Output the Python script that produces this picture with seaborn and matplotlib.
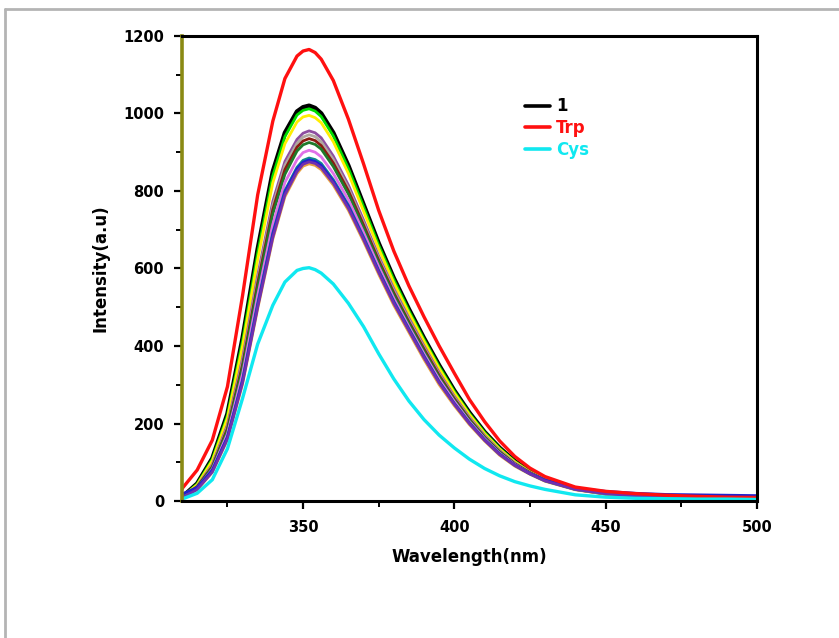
import matplotlib
matplotlib.use("Agg")
import matplotlib.pyplot as plt
import seaborn as sns
from matplotlib.lines import Line2D
from matplotlib.ticker import MultipleLocator

wavelength = [310, 315, 320, 325, 330, 335, 340, 344, 348, 350, 352, 354, 356, 360, 365,
              370, 375, 380, 385, 390, 395, 400, 405, 410, 415, 420, 425, 430, 440, 450,
              460, 470, 480, 490, 500]

trp = [32, 80, 157, 295, 530, 790, 980, 1090, 1148, 1161, 1165, 1157, 1140, 1085, 985,
       870, 750, 645, 555, 475, 400, 330, 262, 205, 155, 115, 85, 63, 36, 25,
       19, 15, 12, 10, 9]
cys = [5, 20, 55, 135, 265, 405, 505, 565, 595, 600, 602, 597, 588, 560, 510,
       450, 380, 315, 258, 210, 170, 137, 108, 84, 65, 50, 39, 30, 16, 10,
       7, 6, 5, 5, 4]
sample1 = [10, 45, 110, 225, 420, 650, 850, 950, 1005, 1016, 1020, 1014, 1000, 950, 865,
           765, 665, 575, 495, 420, 350, 285, 228, 178, 137, 103, 77, 58, 32, 20,
           14, 11, 9, 8, 7]

# other spectra of the series
s_green = [10, 44, 108, 221, 413, 640, 839, 940, 996, 1008, 1012, 1006, 992, 942, 858,
           759, 660, 571, 491, 417, 347, 283, 226, 177, 136, 102, 76, 57, 32, 20,
           14, 11, 9, 8, 7]
s_yellow = [10, 42, 104, 214, 400, 623, 821, 922, 978, 991, 995, 989, 976, 927, 845,
            748, 651, 563, 485, 412, 342, 279, 223, 174, 134, 101, 75, 56, 32, 20,
            14, 11, 9, 8, 7]
s_purple = [9, 38, 94, 196, 368, 582, 773, 876, 933, 949, 955, 950, 937, 890, 815,
            725, 632, 548, 472, 400, 331, 270, 216, 169, 130, 98, 74, 55, 31, 20,
            14, 11, 9, 8, 7]
s_gray = [9, 38, 92, 191, 360, 572, 762, 866, 923, 939, 945, 940, 927, 881, 807,
          718, 626, 543, 467, 396, 327, 267, 214, 167, 129, 97, 73, 55, 31, 20,
          13, 10, 8, 7, 6]
s_brown = [9, 37, 89, 187, 352, 562, 752, 855, 913, 929, 935, 930, 917, 872, 800,
           712, 621, 537, 462, 392, 324, 264, 211, 165, 127, 96, 73, 54, 31, 19,
           13, 10, 8, 7, 6]
s_dkgreen = [9, 35, 87, 182, 344, 551, 741, 843, 903, 919, 925, 920, 908, 863, 792,
             705, 615, 532, 458, 387, 320, 261, 209, 164, 126, 95, 72, 54, 31, 19,
             13, 10, 8, 7, 6]
s_magenta = [8, 33, 82, 173, 328, 530, 714, 822, 881, 899, 905, 900, 888, 845, 777,
             693, 605, 523, 450, 380, 314, 257, 205, 161, 123, 94, 71, 53, 30, 19,
             13, 10, 8, 7, 6]
s_teal = [8, 31, 77, 164, 313, 510, 692, 801, 861, 879, 885, 881, 871, 829, 763,
          681, 595, 515, 444, 374, 308, 252, 202, 158, 121, 92, 70, 52, 30, 19,
          13, 10, 8, 7, 6]
s_blue = [18, 35, 80, 165, 310, 505, 688, 797, 857, 874, 880, 876, 866, 825, 760,
          678, 593, 513, 442, 372, 307, 251, 201, 158, 121, 93, 71, 54, 33, 25,
          20, 17, 16, 15, 14]
s_violet = [8, 30, 75, 160, 305, 500, 680, 790, 850, 869, 875, 871, 860, 820, 755,
            675, 590, 510, 440, 370, 305, 250, 200, 157, 120, 92, 70, 52, 30, 19,
            13, 10, 8, 7, 6]
s_orange = [8, 29, 74, 158, 302, 496, 676, 785, 845, 864, 870, 866, 855, 815, 750,
            670, 585, 505, 435, 365, 300, 246, 197, 155, 118, 90, 69, 51, 29, 18,
            13, 10, 8, 7, 6]

sns.set_style("ticks")
plt.rcParams["font.family"] = ["DejaVu Sans"]
plt.rcParams["font.weight"] = "bold"
plt.rcParams["text.color"] = "black"
plt.rcParams["axes.labelcolor"] = "black"
plt.rcParams["xtick.color"] = "black"
plt.rcParams["ytick.color"] = "black"

fig = plt.figure(figsize=(8.39, 6.38), dpi=100)
ax = fig.add_axes([0.217, 0.2147, 0.685, 0.729])

# outer frame (top and left edges only)
fig.add_artist(Line2D([0.006, 1.0], [0.986, 0.986], transform=fig.transFigure,
                      color="#b4b4b4", lw=2))
fig.add_artist(Line2D([0.006, 0.006], [0.0, 0.986], transform=fig.transFigure,
                      color="#b4b4b4", lw=2))

sns.lineplot(x=wavelength, y=sample1, color="black", lw=3.2, ax=ax, label="1")
others = [
    (s_green, "#00dd00"),
    (s_yellow, "#ffee00"),
    (s_purple, "#8e4ea0"),
    (s_gray, "#b0a8a0"),
    (s_brown, "#8b1a10"),
    (s_dkgreen, "#1f7a2a"),
    (s_magenta, "#e070e8"),
    (s_orange, "#e8a040"),
    (s_teal, "#108890"),
    (s_blue, "#2020d0"),
    (s_violet, "#7030b0"),
]
for vals, c in others:
    sns.lineplot(x=wavelength, y=vals, color=c, lw=2.0, ax=ax, legend=False)

sns.lineplot(x=wavelength, y=trp, color="#ff1010", lw=2.4, ax=ax, label="Trp")
sns.lineplot(x=wavelength, y=cys, color="#10e8f0", lw=2.4, ax=ax, label="Cys")

ax.set_xlim(310, 500)
ax.set_ylim(0, 1200)
ax.xaxis.set_major_locator(MultipleLocator(50))
ax.xaxis.set_minor_locator(MultipleLocator(25))
ax.yaxis.set_major_locator(MultipleLocator(200))
ax.yaxis.set_minor_locator(MultipleLocator(100))
ax.tick_params(which="major", length=6, width=1.6, labelsize=10.5, direction="out")
ax.tick_params(which="minor", length=4, width=1.4, direction="out")
ax.tick_params(axis="x", which="major", pad=7.5)
ax.tick_params(axis="y", which="major", pad=7)
for lab in ax.get_xticklabels() + ax.get_yticklabels():
    lab.set_fontweight("bold")

for side in ["top", "right", "bottom"]:
    ax.spines[side].set_linewidth(2.2)
    ax.spines[side].set_color("black")
ax.spines["left"].set_linewidth(2.6)
ax.spines["left"].set_color("#8a8a14")

ax.set_xlabel("Wavelength(nm)", fontsize=12, fontweight="bold")
ax.set_ylabel("Intensity(a.u)", fontsize=12, fontweight="bold")
ax.xaxis.set_label_coords(0.5, -0.101)
ax.yaxis.set_label_coords(-0.126, 0.5)

leg = ax.legend(loc="upper left", bbox_to_anchor=(0.57, 0.90), frameon=False,
                labelcolor="linecolor", prop={"weight": "bold", "size": 12},
                handlelength=1.5, handletextpad=0.4, labelspacing=0.22)
for h in leg.get_lines():
    h.set_linewidth(2.6)

fig.savefig("out.png", dpi=100)
